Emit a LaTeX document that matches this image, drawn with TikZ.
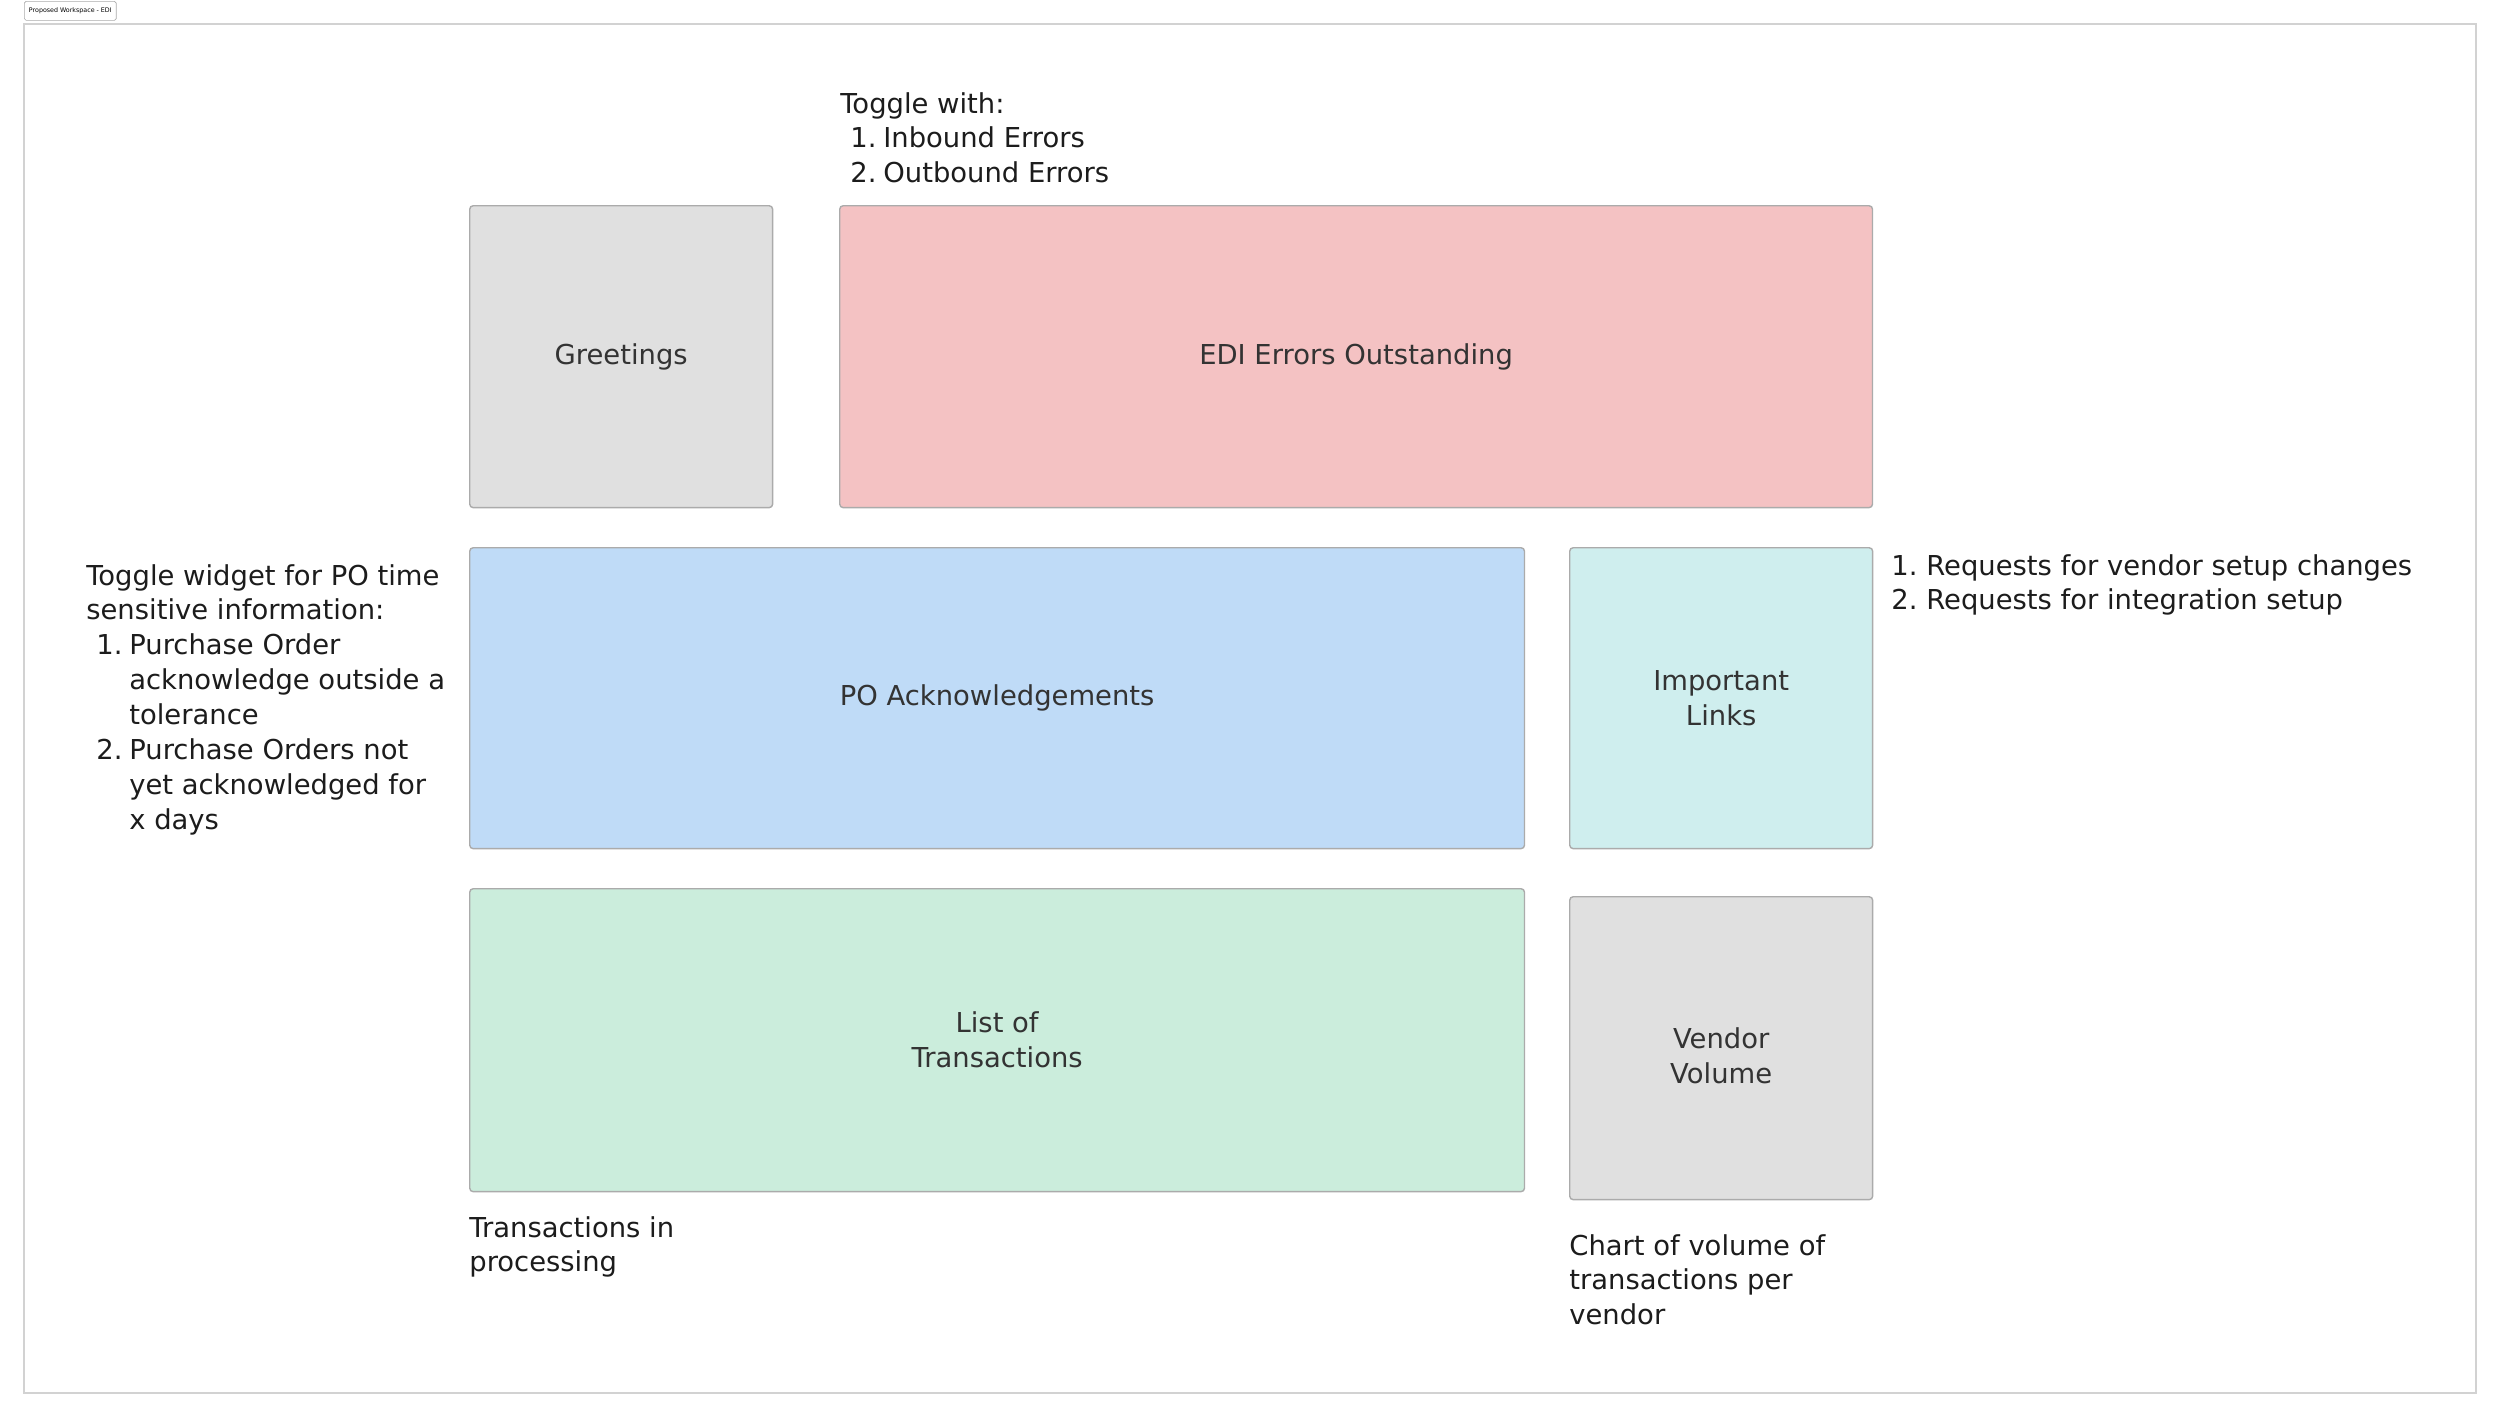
\documentclass[tikz,border=0pt]{standalone}
\usepackage{fontspec}
\setmainfont{DejaVu Sans}
\usepackage{array}
\usetikzlibrary{positioning}
\definecolor{framegrey}{HTML}{D2D2D2}
\definecolor{edge}{HTML}{ABABAB}
\definecolor{greyfill}{HTML}{E0E0E0}
\definecolor{redfill}{HTML}{F4C2C3}
\definecolor{bluefill}{HTML}{BFDBF7}
\definecolor{cyanfill}{HTML}{CFEEEE}
\definecolor{greenfill}{HTML}{CBEDDC}
\definecolor{ink}{HTML}{1C1C1C}
\definecolor{boxink}{HTML}{333333}
\newcommand{\bodyfont}{\fontsize{15.6}{19.9}\selectfont}
\tikzset{
  widget/.style={draw=edge,line width=0.8pt,rounded corners=2pt,anchor=north west,inner sep=0pt,align=center,text=boxink,font=\bodyfont},
  note/.style={anchor=base west,inner sep=0pt,text=ink,font=\bodyfont},
}

\begin{document}
\begin{tikzpicture}[x=0.02cm,y=-0.02cm]
\useasboundingbox (0,0) rectangle (2500,1418);
% canvas and tab
\draw[framegrey,line width=0.8pt] (24,24) rectangle (2476,1393);
\node[draw=edge,line width=0.4pt,rounded corners=1pt,anchor=north west,minimum width=1.84cm,minimum height=0.38cm,inner sep=0pt,font=\fontsize{3.6}{5}\selectfont] (tab) at (24,1) {Proposed Workspace - EDI};

% widgets
\node[widget,fill=greyfill,minimum width=6.06cm,minimum height=6.04cm] (greet) at (469,205) {Greetings};
\node[widget,fill=redfill,minimum width=20.66cm,minimum height=6.04cm] (edi) at (839,205) {EDI Errors Outstanding};
\node[widget,fill=bluefill,minimum width=21.1cm,minimum height=6.02cm] (poack) at (469,547) {PO Acknowledgements};
\node[widget,fill=cyanfill,minimum width=6.06cm,minimum height=6.02cm] (links) at (1569,547) {Important\\Links};
\node[widget,fill=greenfill,minimum width=21.1cm,minimum height=6.06cm] (trans) at (469,888) {List of\\Transactions};
\node[widget,fill=greyfill,minimum width=6.06cm,minimum height=6.06cm,
  label={[text=boxink,align=center,font=\bodyfont,yshift=-0.15cm]center:Vendor\\Volume}] (vendor) at (1569,896) {};

% notes
\node[note] (errnote) at (840,113) {\begin{tabular}[t]{@{\hspace{0.2cm}}p{0.66cm}@{}l@{}}
\multicolumn{2}{@{}l@{}}{Toggle with:}\\
1.&Inbound Errors\\
2.&Outbound Errors
\end{tabular}};
\node[note] (ponote) at (86,585) {\begin{tabular}[t]{@{\hspace{0.2cm}}p{0.66cm}@{}l@{}}
\multicolumn{2}{@{}l@{}}{Toggle widget for PO time}\\
\multicolumn{2}{@{}l@{}}{sensitive information:}\\
1.&Purchase Order\\
&acknowledge outside a\\
&tolerance\\
2.&Purchase Orders not\\
&yet acknowledged for\\
&x days
\end{tabular}};
\node[note] (linknote) at (1891,575) {\begin{tabular}[t]{@{}p{0.7cm}@{}l@{}}
1.&Requests for vendor setup changes\\
2.&Requests for integration setup
\end{tabular}};
\node[note] (transnote) at (469,1237) {\begin{tabular}[t]{@{}l@{}}
Transactions in\\
processing
\end{tabular}};
\node[note] (vendnote) at (1569,1255) {\begin{tabular}[t]{@{}l@{}}
Chart of volume of\\
transactions per\\
vendor
\end{tabular}};
\end{tikzpicture}
\end{document}
